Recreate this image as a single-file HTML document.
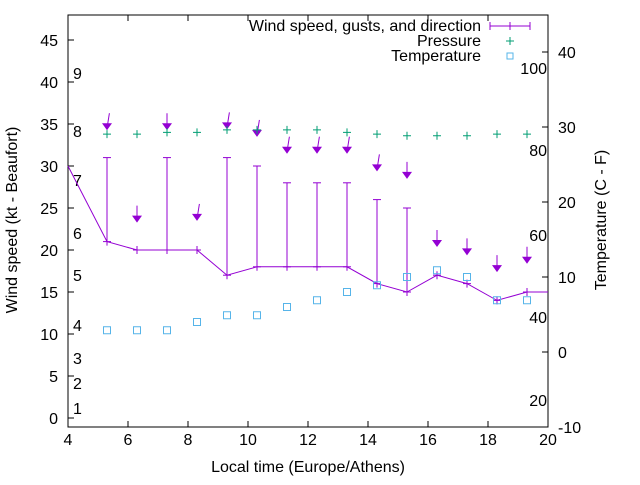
<!DOCTYPE html>
<html><head><meta charset="utf-8"><style>
body{margin:0;background:#fff}
svg text{font-family:"Liberation Sans",sans-serif;font-size:16px;fill:#000}
</style></head><body>
<svg id="c" width="640" height="480" viewBox="0 0 640 480">
<g id="g"></g>
</svg>
<script>
const times=[5.3,6.3,7.3,8.3,9.3,10.3,11.3,12.3,13.3,14.3,15.3,16.3,17.3,18.3,19.3];
const windX=[4,5.3,6.3,7.3,8.3,9.3,10.3,11.3,12.3,13.3,14.3,15.3,16.3,17.3,18.3,19.3,20];
const wind=[30,21,20,20,20,17,18,18,18,18,16,15,17,16,14,15,15];
const gusts=[31,null,31,null,31,30,28,28,28,26,25,null,null,null,null];
const gustBase=[21,20,20,20,17,18,18,18,18,16,15,17,16,14,15];
const arrowY=[34.5,23.5,34.5,23.7,34.6,33.7,31.7,31.7,31.7,29.6,28.7,20.6,19.6,17.6,18.6];
const arrowTilt=[0.3,0,0,0.3,0.3,0.3,0.3,0.3,0.3,0.3,0,0,0,0,0];
const pressure=[33.8,33.8,34.0,34.0,34.3,34.3,34.3,34.3,34.0,33.8,33.6,33.6,33.6,33.8,33.8];
const temps=[2.9,2.9,2.9,4,4.9,4.9,6,6.9,8,8.9,10,10.9,10,6.9,6.9];
const xTicks=[4,6,8,10,12,14,16,18,20];
const yTicks=[0,5,10,15,20,25,30,35,40,45];
const tTicks=[-10,0,10,20,30,40];
const bft=[["1",408],["2",383],["3",358],["4",325],["5",275],["6",233],["7",180],["8",131],["9",73]];
const fahr=[["100",68],["80",150],["60",235],["40",317],["20",400]];
const L=68,R=548,T=15,B=427;
const X=v=>L+(v-4)*30;
const Y=v=>418-v*8.4;
const YT=v=>352-v*7.5;
const g=document.getElementById('g');
const NS='http://www.w3.org/2000/svg';
function el(t,a,txt){const e=document.createElementNS(NS,t);for(const k in a)e.setAttribute(k,a[k]);if(txt!==undefined)e.textContent=txt;g.appendChild(e);return e;}
const P='#9400d3',G='#009e73',Bl='#56b4e9';
let e=el('rect',{x:L,y:T,width:R-L,height:B-T,fill:'none',stroke:'#000','stroke-width':1});

xTicks.forEach(v=>{el('line',{x1:X(v),y1:B,x2:X(v),y2:B-6,stroke:'#000'});el('line',{x1:X(v),y1:T,x2:X(v),y2:T+6,stroke:'#000'});
 e=el('text',{x:X(v),y:B+18,'text-anchor':'middle'},v);});
yTicks.forEach(v=>{el('line',{x1:L,y1:Y(v),x2:L+6,y2:Y(v),stroke:'#000'});
 e=el('text',{x:L-10,y:Y(v)+6,'text-anchor':'end'},v);});
tTicks.forEach(v=>{el('line',{x1:R,y1:YT(v),x2:R-6,y2:YT(v),stroke:'#000'});
 e=el('text',{x:R+10,y:YT(v)+6},v);});
bft.forEach(b=>{e=el('text',{x:73,y:b[1]+6},b[0]);});
fahr.forEach(b=>{e=el('text',{x:547,y:b[1]+6,'text-anchor':'end'},b[0]);});
e=el('text',{x:308,y:472,'text-anchor':'middle'},'Local time (Europe/Athens)');
e=el('text',{x:17,y:220,'text-anchor':'middle',transform:'rotate(-90 17 220)'},'Wind speed (kt - Beaufort)');
e=el('text',{x:606,y:220,'text-anchor':'middle',transform:'rotate(-90 606 220)'},'Temperature (C - F)');
e=el('polyline',{points:windX.map((t,i)=>X(t)+','+Y(wind[i])).join(' '),fill:'none',stroke:P,'stroke-width':1});

times.forEach((t,i)=>{const x=X(t);
 el('line',{x1:x-4,y1:Y(gustBase[i]),x2:x+4,y2:Y(gustBase[i]),stroke:P});
 el('line',{x1:x,y1:Y(gustBase[i])-4,x2:x,y2:Y(gustBase[i])+4,stroke:P});
 if(gusts[i]!==null){e=el('line',{x1:x,y1:Y(gusts[i]),x2:x,y2:Y(gustBase[i]),stroke:P});
  el('line',{x1:x-4,y1:Y(gusts[i]),x2:x+4,y2:Y(gusts[i]),stroke:P});}
 const ay=Y(arrowY[i]),dx=arrowTilt[i]*8;
 e=el('line',{x1:x+dx,y1:ay-15,x2:x,y2:ay,stroke:P});
 el('polygon',{points:`${x-5},${ay-5} ${x+5},${ay-5} ${x},${ay+2}`,fill:P});
 e=el('path',{d:`M${X(t)-4} ${Y(pressure[i])}h8M${X(t)} ${Y(pressure[i])-4}v8`,stroke:G,'stroke-width':1});
 e=el('rect',{x:X(t)-3.5,y:YT(temps[i])-3.5,width:7,height:7,fill:'none',stroke:Bl,'stroke-width':1});
});
e=el('text',{x:481,y:31,'text-anchor':'end'},'Wind speed, gusts, and direction');
el('path',{d:'M490 26h40M490 22v8M530 22v8M510 22v8',stroke:P});
e=el('text',{x:481,y:46,'text-anchor':'end'},'Pressure');
el('path',{d:'M506 41h8M510 37v8',stroke:G});
e=el('text',{x:481,y:61,'text-anchor':'end'},'Temperature');
el('rect',{x:507,y:53,width:6,height:6,fill:'none',stroke:Bl});
</script>
</body></html>
